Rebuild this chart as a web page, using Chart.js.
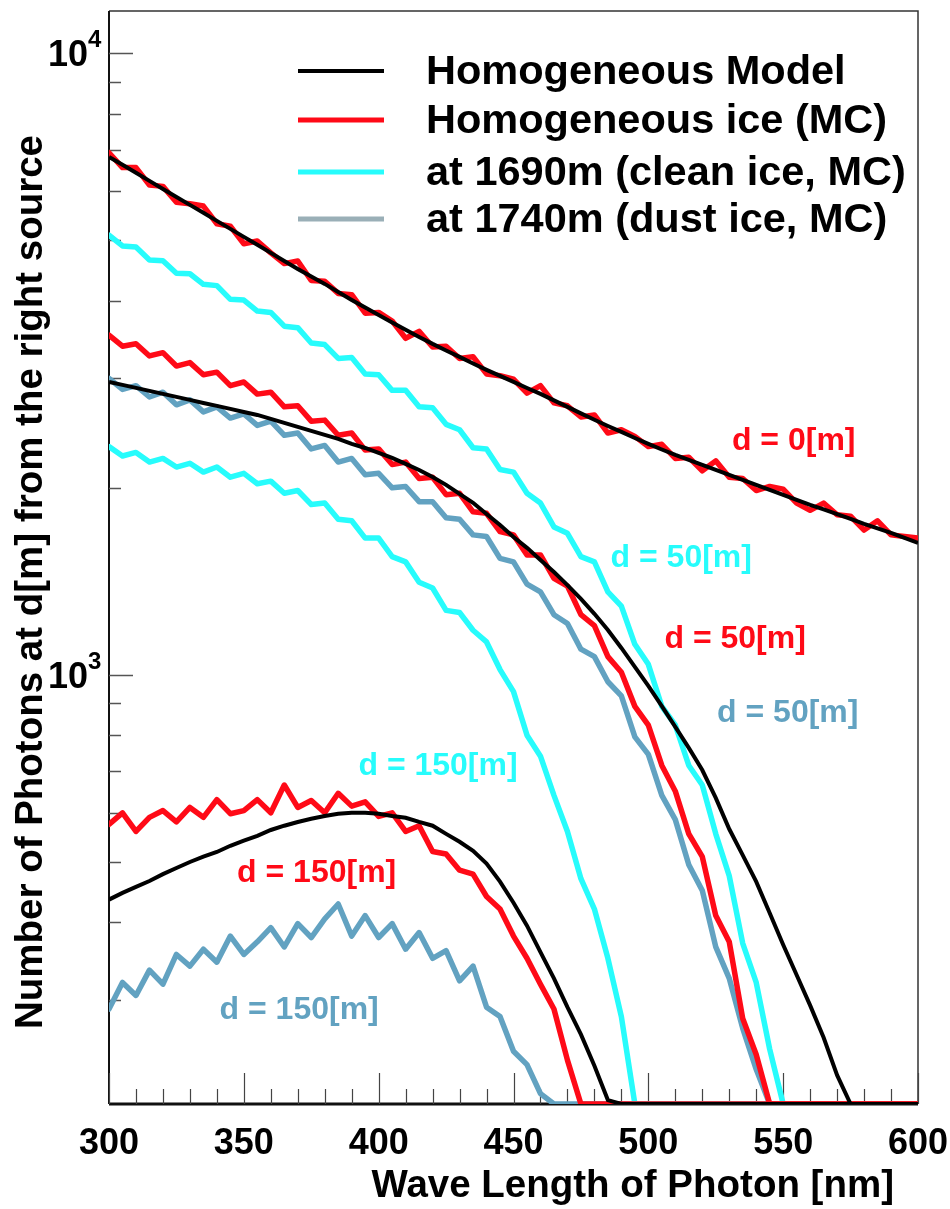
<!DOCTYPE html>
<html>
<head>
<meta charset="utf-8">
<title>Number of photons vs wave length</title>
<script src="https://cdn.jsdelivr.net/npm/chart.js@4.4.1/dist/chart.umd.min.js"></script>
<style>
  html, body { margin: 0; padding: 0; background: #fff; }
  canvas { display: block; }
</style>
</head>
<body>
<canvas id="chart" width="950" height="1209"></canvas>
<script>
// wave length bins [nm]
const wavelengths = [300, 305, 310, 315, 320, 325, 330, 335, 340, 345, 350, 355, 360, 365, 370, 375, 380, 385, 390, 395,
  400, 405, 410, 415, 420, 425, 430, 435, 440, 445, 450, 455, 460, 465, 470, 475, 480, 485, 490, 495,
  500, 505, 510, 515, 520, 525, 530, 535, 540, 545, 550, 555, 560, 565, 570, 575, 580, 585, 590, 595, 600];

// homogeneous model (smooth curves)
const modelD0 = [6815, 6620, 6424, 6235, 6052, 5875, 5705, 5540, 5377, 5220, 5067, 4920, 4775, 4635, 4500, 4375, 4257, 4132, 4012, 3900,
  3795, 3690, 3591, 3498, 3409, 3327, 3249, 3170, 3096, 3027, 2961, 2895, 2832, 2765, 2699, 2635, 2573, 2515, 2460, 2405,
  2353, 2305, 2259, 2218, 2177, 2137, 2098, 2060, 2022, 1985, 1948, 1912, 1877, 1846, 1815, 1782, 1750, 1721, 1692, 1661, 1631];
const modelD50 = [2961, 2928, 2896, 2864, 2832, 2801, 2770, 2739, 2709, 2679, 2649, 2620, 2582, 2544, 2506, 2469, 2433, 2397, 2353, 2318,
  2276, 2234, 2185, 2137, 2082, 2022, 1956, 1892, 1815, 1743, 1667, 1601, 1531, 1464, 1395, 1325, 1254, 1181, 1105, 1030,
  960, 891, 825, 763, 703, 634, 565, 513, 465, 414, 368, 329, 294, 261, 227, 0, 0, 0, 0, 0, 0];
const modelD150 = [435, 446, 456, 466, 478, 489, 500, 510, 519, 531, 541, 551, 563, 572, 580, 587, 593, 598, 600, 600,
  598, 593, 589, 580, 572, 555, 539, 521, 497, 465, 430, 395, 358, 325, 292, 264, 235, 207, 0, 0,
  0, 0, 0, 0, 0, 0, 0, 0, 0, 0, 0, 0, 0, 0, 0, 0, 0, 0, 0, 0, 0];

// homogeneous ice (MC)
const iceD0 = [6920, 6550, 6550, 6140, 6110, 5760, 5730, 5680, 5320, 5270, 4940, 4990, 4775, 4590, 4635, 4310, 4300, 4110, 4090, 3820,
  3830, 3710, 3480, 3570, 3370, 3380, 3230, 3250, 3050, 3030, 2990, 2840, 2920, 2740, 2710, 2600, 2620, 2450, 2480, 2420,
  2330, 2350, 2230, 2240, 2130, 2210, 2080, 2070, 1980, 2010, 1990, 1890, 1840, 1890, 1810, 1800, 1710, 1770, 1680, 1670, 1660];
const iceD50 = [3520, 3380, 3410, 3260, 3300, 3140, 3180, 3040, 3070, 2920, 2960, 2830, 2850, 2700, 2710, 2560, 2570, 2430, 2450, 2300,
  2310, 2180, 2200, 2070, 2080, 1950, 1960, 1830, 1820, 1700, 1680, 1560, 1560, 1430, 1390, 1250, 1200, 1070, 1010, 890,
  830, 715, 650, 555, 510, 410, 372, 280, 245, 0, 0, 0, 0, 0, 0, 0, 0, 0, 0, 0, 0];
const iceD150 = [575, 600, 560, 590, 605, 580, 612, 590, 630, 598, 605, 630, 600, 665, 612, 628, 600, 645, 615, 625,
  592, 600, 560, 572, 520, 515, 485, 478, 440, 420, 380, 350, 318, 290, 240, 0, 0, 0, 0, 0,
  0, 0, 0, 0, 0, 0, 0, 0, 0, 0, 0, 0, 0, 0, 0, 0, 0, 0, 0, 0, 0];

// at 1690m, clean ice (MC)
const cleanD50 = [5100, 4900, 4880, 4650, 4640, 4430, 4420, 4250, 4230, 4020, 4010, 3850, 3830, 3640, 3620, 3420, 3400, 3230, 3240, 3050,
  3040, 2870, 2870, 2700, 2690, 2530, 2480, 2320, 2310, 2140, 2120, 1960, 1890, 1730, 1690, 1550, 1520, 1360, 1290, 1120,
  1040, 890, 830, 715, 665, 555, 475, 370, 320, 250, 0, 0, 0, 0, 0, 0, 0, 0, 0, 0, 0];
const cleanD150 = [2330, 2250, 2280, 2200, 2230, 2160, 2190, 2120, 2160, 2080, 2110, 2030, 2050, 1960, 1980, 1880, 1890, 1780, 1770, 1660,
  1660, 1550, 1520, 1410, 1380, 1270, 1260, 1180, 1130, 1020, 940, 800, 740, 640, 560, 470, 420, 350, 282, 0,
  0, 0, 0, 0, 0, 0, 0, 0, 0, 0, 0, 0, 0, 0, 0, 0, 0, 0, 0, 0, 0];

// at 1740m, dust ice (MC)
const dustD50 = [3000, 2880, 2920, 2800, 2850, 2720, 2770, 2650, 2700, 2590, 2630, 2520, 2560, 2430, 2450, 2310, 2340, 2200, 2230, 2100,
  2110, 2000, 2010, 1900, 1900, 1790, 1780, 1680, 1670, 1540, 1520, 1400, 1360, 1250, 1210, 1100, 1070, 975, 925, 795,
  745, 640, 585, 495, 450, 365, 325, 270, 232, 0, 0, 0, 0, 0, 0, 0, 0, 0, 0, 0, 0];
const dustD150 = [290, 320, 305, 335, 318, 355, 340, 362, 345, 380, 355, 372, 392, 365, 398, 378, 405, 428, 380, 410,
  378, 398, 362, 385, 350, 360, 322, 340, 292, 282, 248, 236, 212, 0, 0, 0, 0, 0, 0, 0,
  0, 0, 0, 0, 0, 0, 0, 0, 0, 0, 0, 0, 0, 0, 0, 0, 0, 0, 0, 0, 0];

// axes
const X_MIN = 300, X_MAX = 600;
const Y_MIN = 204, Y_MAX = 11700;
const xMajorTicks = [300, 350, 400, 450, 500, 550, 600];
const xMinorTicks = [310, 320, 330, 340, 360, 370, 380, 390, 410, 420, 430, 440, 460, 470, 480, 490, 510, 520, 530, 540, 560, 570, 580, 590];
const yMajorTicks = [1000, 10000];
const yMinorTicks = [300, 400, 500, 600, 700, 800, 900, 2000, 3000, 4000, 5000, 6000, 7000, 8000, 9000];

const legendLabels = ['Homogeneous Model', 'Homogeneous ice (MC)', 'at 1690m (clean ice, MC)', 'at 1740m (dust ice, MC)'];
const noteLabels = ['d = 0[m]', 'd = 50[m]', 'd = 50[m]', 'd = 50[m]', 'd = 150[m]', 'd = 150[m]', 'd = 150[m]'];
// where each note starts: [wave length, photons] of its baseline
const noteAnchors = [[531, 2300], [486, 1490], [506, 1105], [525.5, 840], [392.5, 690], [347.5, 465], [341, 280]];

const FONT = '"Liberation Sans", Arial, Helvetica, sans-serif';
const RED = '#ff0a17';
const CYAN = '#27fcfc';
const STEEL = '#62a2c1';
const noteColors = [RED, CYAN, RED, STEEL, CYAN, RED, STEEL];
const legendColors = ['#000000', RED, CYAN, '#9aafb7'];
const legendRows = [71, 120, 172, 219];

// empty bins are drawn on the bottom of the frame, like the histogram does
const points = arr => arr.map((v, i) => ({ x: wavelengths[i], y: v > 0 ? v : Y_MIN }));

const model = (label, data) => ({
  label, data: points(data), borderColor: '#000', borderWidth: 4,
  pointRadius: 0, fill: false
});
const mc = (label, data, color) => ({
  label, data: points(data), borderColor: color, borderWidth: 5.5,
  pointRadius: 0, fill: false, borderJoinStyle: 'round', borderCapStyle: 'round'
});

const axesPlugin = {
  id: 'axes',
  beforeDatasetsDraw(chart) {
    const { ctx, chartArea: a, scales: { x, y } } = chart;
    ctx.save();
    // frame
    ctx.strokeStyle = '#333';
    ctx.lineWidth = 1.5;
    ctx.beginPath();
    ctx.moveTo(a.left, a.top); ctx.lineTo(a.right, a.top); ctx.lineTo(a.right, a.bottom);
    ctx.stroke();
    ctx.strokeStyle = '#111';
    ctx.lineWidth = 2;
    ctx.beginPath();
    ctx.moveTo(a.left, a.top); ctx.lineTo(a.left, a.bottom);
    ctx.stroke();
    ctx.lineWidth = 3;
    ctx.beginPath();
    ctx.moveTo(a.left, a.bottom); ctx.lineTo(a.right, a.bottom);
    ctx.stroke();

    // ticks point into the frame
    ctx.strokeStyle = '#444';
    ctx.lineWidth = 1.2;
    ctx.beginPath();
    xMajorTicks.forEach(v => {
      const px = Math.round(x.getPixelForValue(v)) + 0.5;
      ctx.moveTo(px, a.bottom); ctx.lineTo(px, a.bottom - 31);
    });
    xMinorTicks.forEach(v => {
      const px = Math.round(x.getPixelForValue(v)) + 0.5;
      ctx.moveTo(px, a.bottom); ctx.lineTo(px, a.bottom - 15);
    });
    ctx.stroke();
    ctx.strokeStyle = '#555';
    ctx.lineWidth = 1.5;
    ctx.beginPath();
    yMajorTicks.forEach(v => {
      const py = Math.round(y.getPixelForValue(v)) + 0.5;
      ctx.moveTo(a.left, py); ctx.lineTo(a.left + 24, py);
    });
    yMinorTicks.forEach(v => {
      const py = Math.round(y.getPixelForValue(v)) + 0.5;
      ctx.moveTo(a.left, py); ctx.lineTo(a.left + 12, py);
    });
    ctx.stroke();

    // tick labels
    ctx.fillStyle = '#000';
    ctx.font = `bold 36px ${FONT}`;
    ctx.textAlign = 'center';
    ctx.textBaseline = 'alphabetic';
    xMajorTicks.forEach(v => ctx.fillText(String(v), x.getPixelForValue(v), 1154));
    yMajorTicks.forEach(v => {
      const py = y.getPixelForValue(v);
      ctx.font = `bold 36px ${FONT}`;
      ctx.textAlign = 'right';
      ctx.fillText('10', 88, py + 13);
      ctx.font = `bold 24px ${FONT}`;
      ctx.textAlign = 'left';
      ctx.fillText(String(Math.round(Math.log10(v))), 88, py - 6);
    });

    // axis titles
    ctx.font = `bold 38.5px ${FONT}`;
    ctx.textAlign = 'right';
    ctx.fillText('Wave Length of Photon [nm]', 894, 1197);
    ctx.save();
    ctx.translate(42, 582);
    ctx.rotate(-Math.PI / 2);
    ctx.font = `bold 38.5px ${FONT}`;
    ctx.textAlign = 'center';
    ctx.fillText('Number of Photons at d[m] from the right source', 0, 0);
    ctx.restore();
    ctx.restore();
  },
  afterDatasetsDraw(chart) {
    const { ctx, scales: { x, y } } = chart;
    ctx.save();
    // distance notes
    ctx.font = `bold 32px ${FONT}`;
    ctx.textAlign = 'left';
    ctx.textBaseline = 'alphabetic';
    noteLabels.forEach((t, i) => {
      ctx.fillStyle = noteColors[i];
      ctx.fillText(t, x.getPixelForValue(noteAnchors[i][0]), y.getPixelForValue(noteAnchors[i][1]));
    });
    // legend
    ctx.font = `bold 41.5px ${FONT}`;
    legendLabels.forEach((t, i) => {
      const ly = legendRows[i];
      ctx.strokeStyle = legendColors[i];
      ctx.lineWidth = i === 0 ? 4 : 5;
      ctx.beginPath();
      ctx.moveTo(298, ly); ctx.lineTo(384, ly);
      ctx.stroke();
      ctx.fillStyle = '#000';
      ctx.fillText(t, 426, ly + 13);
    });
    ctx.restore();
  }
};

const ctx = document.getElementById('chart').getContext('2d');
new Chart(ctx, {
  type: 'line',
  data: {
    datasets: [
      // first dataset is painted last, so the models sit on top
      model('Homogeneous Model d=0', modelD0),
      model('Homogeneous Model d=50', modelD50),
      model('Homogeneous Model d=150', modelD150),
      mc('Homogeneous ice d=0', iceD0, RED),
      mc('Homogeneous ice d=50', iceD50, RED),
      mc('Homogeneous ice d=150', iceD150, RED),
      mc('Clean ice d=50', cleanD50, CYAN),
      mc('Clean ice d=150', cleanD150, CYAN),
      mc('Dust ice d=50', dustD50, STEEL),
      mc('Dust ice d=150', dustD150, STEEL)
    ]
  },
  options: {
    responsive: false,
    animation: false,
    devicePixelRatio: 1,
    layout: { padding: { left: 109, right: 32, top: 11, bottom: 105 } },
    plugins: { legend: { display: false }, tooltip: { enabled: false } },
    scales: {
      x: { type: 'linear', min: X_MIN, max: X_MAX, display: false },
      y: { type: 'logarithmic', min: Y_MIN, max: Y_MAX, display: false }
    }
  },
  plugins: [axesPlugin]
});
</script>
</body>
</html>
